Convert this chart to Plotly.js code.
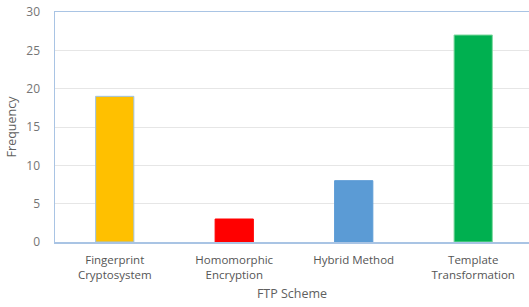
<!DOCTYPE html>
<html>
<head>
<meta charset="utf-8">
<script src="https://cdn.plot.ly/plotly-3.0.1.min.js"></script>
<style>html,body{margin:0;padding:0;background:#fff;}#chart{width:529px;height:307px;}</style>
</head>
<body>
<div id="chart"></div>
<script>
var categories = ["Fingerprint<br>Cryptosystem", "Homomorphic<br>Encryption", "Hybrid Method", "Template<br>Transformation"];
var frequency = [19, 3, 8, 27];
var barColors = ["#FFC000", "#FF0000", "#5B9BD5", "#00B050"];
var yTicks = [0, 5, 10, 15, 20, 25, 30];

var trace = {
  type: "bar",
  x: categories,
  y: frequency,
  width: 0.32,
  marker: {color: barColors, line: {color: ["#9DC3E6", "#FF0000", "#5B9BD5", "#7FD8A0"], width: 1}},
  hoverinfo: "none"
};

var layout = {
  width: 529, height: 307,
  margin: {l: 55, r: 0, t: 12, b: 65},
  paper_bgcolor: "#ffffff",
  plot_bgcolor: "#ffffff",
  font: {family: "'Open Sans', Lato, sans-serif", color: "#595959", size: 11},
  showlegend: false,
  xaxis: {
    type: "category",
    range: [-0.5, 3.467],
    showline: true, mirror: true, linecolor: "#A9C4E4", linewidth: 1.5,
    ticks: "", showgrid: false,
    ticklabelstandoff: 7,
    tickfont: {size: 11.5, color: "#555555"},
    title: {text: "FTP Scheme", font: {size: 12.5, color: "#606060"}, standoff: 8}
  },
  yaxis: {
    range: [0, 30],
    tickvals: yTicks,
    showline: true, linecolor: "#A9C4E4", linewidth: 1.5,
    showgrid: true, gridcolor: "#E6E6E6", gridwidth: 1,
    zeroline: false, ticks: "",
    ticklabelstandoff: 11,
    tickfont: {size: 12, color: "#757575"},
    title: {text: "Frequency", font: {size: 12.5, color: "#606060"}, standoff: 7}
  }
};

Plotly.newPlot("chart", [trace], layout, {displayModeBar: false, staticPlot: true});
</script>
</body>
</html>
